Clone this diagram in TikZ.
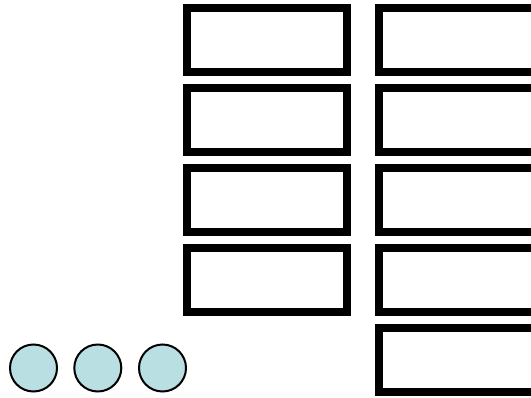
\documentclass[tikz,border=0pt]{standalone}
\definecolor{dotfill}{HTML}{B9DFE3}
\tikzset{
  slot/.style={draw=black, line width=8pt, fill=white, minimum width=160pt, minimum height=64pt, inner sep=0pt, outer sep=0pt, anchor=north west},
  dot/.style={circle, draw=black, line width=2pt, fill=dotfill, minimum size=47pt, inner sep=0pt}
}
\begin{document}
\begin{tikzpicture}[x=1pt,y=-1pt]
\useasboundingbox (0,0) rectangle (531,397);
\begin{scope}
\clip (0,0) rectangle (531,397);
\foreach \i in {0,1,2,3} {
  \node[slot] (L\i) at (187.3, 8+80*\i) {};
}
\foreach \i in {0,1,2,3,4} {
  \node[slot] (R\i) at (379, 8+80*\i) {};
}
\end{scope}
\node[dot] (c1) at (33.5,368) {};
\node[dot] (c2) at (97.8,368) {};
\node[dot] (c3) at (162.5,368) {};
\end{tikzpicture}
\end{document}
